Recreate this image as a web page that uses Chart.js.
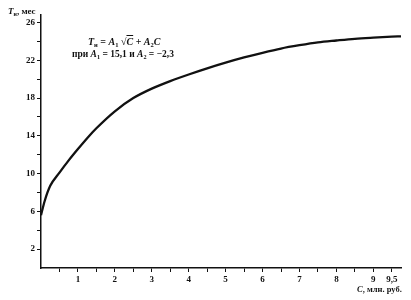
<!DOCTYPE html>
<html>
<head>
<meta charset="utf-8">
<script src="https://cdn.jsdelivr.net/npm/chart.js@4"></script>
<style>
  html, body { margin: 0; padding: 0; background: #fff; }
  #wrap { position: relative; width: 411px; height: 300px; }
  canvas { position: absolute; left: 0; top: 0; }
  .lbl { position: absolute; font-family: "Liberation Serif", "DejaVu Serif", serif; font-weight: bold; color: #111; white-space: nowrap; line-height: 1; }
  .lbl i { font-style: italic; }
  .lbl sub { font-size: 65%; vertical-align: -2px; }
  .rad { text-decoration: overline; }
</style>
</head>
<body>
<div id="wrap">
  <canvas id="c" width="411" height="300"></canvas>
  <div class="lbl" style="left:8px; top:7px; font-size:9px;"><i>T</i><sub>н</sub>, мес</div>
  <div class="lbl" style="left:88px; top:37px; font-size:10px;"><i>T</i><sub>н</sub> = <i>A</i><sub>1</sub> √<span class="rad"><i>C</i></span> + <i>A</i><sub>2</sub><i>C</i></div>
  <div class="lbl" style="left:72px; top:50px; font-size:9.5px;">при <i>A</i><sub>1</sub> = 15,1 и <i>A</i><sub>2</sub> = −2,3</div>
  <div class="lbl" style="left:357px; top:285px; font-size:8.5px;"><i>C</i>, млн. руб.</div>
</div>
<script>
const costC = [0, 0.1, 0.25, 0.5, 0.75, 1.0, 1.25, 1.5, 2.0, 2.5, 3.0, 3.5, 4.0, 4.5, 5.0, 5.5, 6.0, 6.5, 7.0, 7.5, 8.0, 8.5, 9.0, 9.5, 9.75];
const termT = [5.6, 7.1, 8.7, 10.1, 11.4, 12.6, 13.75, 14.8, 16.6, 18.0, 19.0, 19.8, 20.5, 21.15, 21.75, 22.3, 22.8, 23.25, 23.6, 23.9, 24.1, 24.28, 24.4, 24.5, 24.54];
const xTickValues = [0.5, 1, 1.5, 2, 2.5, 3, 3.5, 4, 4.5, 5, 5.5, 6, 6.5, 7, 7.5, 8, 8.5, 9, 9.5];
const xTickLabels = {1:'1',2:'2',3:'3',4:'4',5:'5',6:'6',7:'7',8:'8',9:'9',9.5:'9,5'};
const yTickValues = [2, 4, 6, 8, 10, 12, 14, 16, 18, 20, 22, 24, 26];
const yTickLabels = {2:'2',6:'6',10:'10',14:'14',18:'18',22:'22',26:'26'};

const points = costC.map((c, i) => ({x: c, y: termT[i]}));
const tickFont = {family: '"Liberation Serif", "DejaVu Serif", serif', size: 9, weight: 'bold'};

new Chart(document.getElementById('c'), {
  type: 'line',
  data: { datasets: [{ data: points, borderColor: '#111', borderWidth: 2.3, pointRadius: 0, cubicInterpolationMode: 'monotone', fill: false }] },
  options: {
    responsive: false, animation: false, devicePixelRatio: 1,
    layout: { padding: { top: 15, right: 10, left: 0, bottom: 0 } },
    plugins: { legend: { display: false }, tooltip: { enabled: false } },
    scales: {
      x: {
        type: 'linear', min: 0, max: 9.75,
        afterBuildTicks: s => { s.ticks = xTickValues.map(v => ({value: v})); },
        afterFit: s => { s.height = 32; },
        grid: { drawOnChartArea: false, drawTicks: true, tickLength: 4, color: '#111', lineWidth: 1 },
        border: { display: true, color: '#111', width: 1.5 },
        ticks: { color: '#111', font: tickFont, padding: 2, maxRotation: 0, autoSkip: false,
          callback: v => xTickLabels[v] || '' }
      },
      y: {
        type: 'linear', min: 0, max: 26.8,
        afterBuildTicks: s => { s.ticks = yTickValues.map(v => ({value: v})); },
        afterFit: s => { s.width = 41; },
        grid: { drawOnChartArea: false, drawTicks: true, tickLength: 4, color: '#111', lineWidth: 1 },
        border: { display: true, color: '#111', width: 1.5 },
        ticks: { color: '#111', font: tickFont, padding: 2, autoSkip: false,
          callback: v => yTickLabels[v] || '' }
      }
    }
  }
});
</script>
</body>
</html>
